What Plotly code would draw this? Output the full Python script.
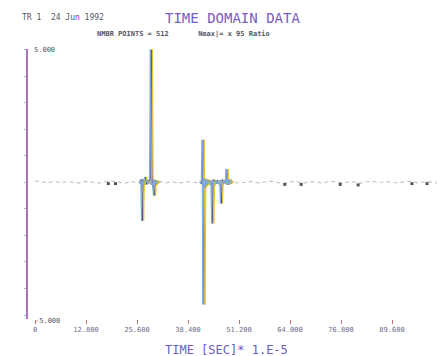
import plotly.graph_objects as go

# ---------------- data ----------------
# quiet baseline (time in 1e-5 s, amplitude)
quiet_t = [0, 1.6, 3.2, 4.8, 6.4, 8.0, 9.6, 11.2, 12.8, 14.4, 16.0, 17.6, 19.2, 20.8,
           22.4, 24.0, 25.6, 26.4, 31.2, 32.8, 34.4, 36.0, 37.6, 39.2, 40.8, 41.6,
           49.6, 51.2, 52.8, 54.4, 56.0, 57.6, 59.2, 60.8, 62.4, 64.0, 65.6, 67.2,
           68.8, 70.4, 72.0, 73.6, 75.2, 76.8, 78.4, 80.0, 81.6, 83.2, 84.8, 86.4,
           88.0, 89.6, 91.2, 92.8, 94.4, 96.0, 97.6, 99.2, 100.8, 102.4]
quiet_v = [0.05, 0.02, -0.02, 0.03, -0.01, 0.02, 0.0, -0.02, 0.03, 0.01, -0.03, 0.02,
           0.04, 0.02, -0.05, 0.03, -0.02, 0.05, 0.03, -0.02, 0.02, -0.03, 0.01, 0.02,
           -0.02, 0.05, 0.02, -0.03, 0.01, 0.03, -0.02, 0.02, 0.04, -0.01, -0.05, 0.02,
           0.03, -0.04, 0.01, 0.02, -0.03, 0.02, 0.03, -0.02, 0.01, 0.02, -0.04, 0.02,
           0.03, -0.01, 0.02, 0.01, -0.03, 0.02, 0.04, -0.02, 0.01, 0.02, -0.03, 0.01]

burst1_t = [26.4, 26.6, 26.8, 27.0, 27.2, 27.4, 27.6, 27.8, 28.0, 28.2, 28.4, 28.6, 28.8,
            29.0, 29.2, 29.4, 29.6, 29.8, 30.0, 30.2, 30.4, 30.6, 30.8, 31.0, 31.2]
burst1_v = [0.03, -0.05, 0.12, -1.45, 0.1, -0.1, 0.08, 0.2, -0.08, 0.06, 0.05, -0.05, 0.1,
            0.15, 5.0, -0.1, 0.12, -0.12, -0.5, 0.08, -0.1, 0.06, -0.05, 0.03, 0.02]

burst2_t = [41.6, 41.8, 42.0, 42.2, 42.4, 42.6, 42.8, 43.0, 43.2, 43.4, 43.6, 43.8, 44.0,
            44.2, 44.4, 44.6, 44.8, 45.0, 45.2, 45.4, 45.6, 45.8, 46.0, 46.2, 46.4, 46.6,
            46.8, 47.0, 47.2, 47.4, 47.6, 47.8, 48.0, 48.2, 48.4, 48.6, 48.8, 49.0, 49.2,
            49.4, 49.6]
burst2_v = [0.03, -0.06, 0.05, 1.6, -4.6, 0.15, -0.2, 0.1, -0.12, 0.1, -0.08, 0.06, 0.05,
            -0.08, 0.05, -1.55, 0.1, -0.12, 0.06, 0.05, -0.05, 0.08, -0.06, 0.05, -0.08, 0.06,
            -0.8, 0.1, 0.05, -0.06, 0.08, 0.05, -0.05, 0.5, -0.1, 0.12, -0.08, 0.1, -0.05,
            0.04, 0.02]

blip_t = [18.4, 20.2, 62.7, 66.8, 76.6, 81.1, 94.6, 98.4]
blip_v = [-0.05, -0.05, -0.08, -0.08, -0.08, -0.1, -0.05, -0.05]

tick_vals = [0, 12.8, 25.6, 38.4, 51.2, 64.0, 76.8, 89.6, 102.4]
tick_text = ["0", "12.800", "25.600", "38.400", "51.200", "64.000", "76.800", "89.600", "102.4"]

y_top_label = "5.000"
y_bot_label = "-5.000"

# ---------------- figure ----------------
X0, X1 = -1.76, 102.9
SHIFT = 0.28
MONO = "DejaVu Sans Mono"

fig = go.Figure()

fig.add_trace(go.Scatter(x=quiet_t, y=quiet_v, mode="lines",
                         line=dict(color="#c4c4c4", width=1.2, dash="4px,3px"),
                         hoverinfo="skip", showlegend=False))
fig.add_trace(go.Scatter(x=blip_t, y=blip_v, mode="markers",
                         marker=dict(color="#555555", size=3, symbol="square"),
                         hoverinfo="skip", showlegend=False))

# colour fringes (misregistered print look)
for xa, col in (("x2", "#e6c22a"), ("x3", "#74a8e8")):
    for bt, bv in ((burst1_t, burst1_v), (burst2_t, burst2_v)):
        fig.add_trace(go.Scatter(x=bt, y=bv, mode="lines", xaxis=xa,
                                 line=dict(color=col, width=1.0),
                                 hoverinfo="skip", showlegend=False))
for bt, bv in ((burst1_t, burst1_v), (burst2_t, burst2_v)):
    fig.add_trace(go.Scatter(x=bt, y=bv, mode="lines",
                             line=dict(color="#5b3f78", width=1.1),
                             hoverinfo="skip", showlegend=False))

# page body has an 8px default margin; figure is sized to fit the window
fig.update_layout(
    width=437, height=348,
    margin=dict(l=20, r=0, t=41, b=37),
    paper_bgcolor="white", plot_bgcolor="white",
    showlegend=False,
    xaxis=dict(range=[X0, X1], showgrid=False, zeroline=False, showline=False,
               automargin=False,
               tickmode="array", tickvals=tick_vals, ticktext=tick_text,
               ticks="outside", ticklen=4, tickcolor="#c07070", tickwidth=1,
               tickfont=dict(family=MONO, size=7, color="#6a6a8a")),
    xaxis2=dict(range=[X0 - SHIFT, X1 - SHIFT], overlaying="x", visible=False,
                automargin=False),
    xaxis3=dict(range=[X0 + SHIFT, X1 + SHIFT], overlaying="x", visible=False,
                automargin=False),
    yaxis=dict(range=[-5.15, 5.02], showgrid=False, zeroline=False,
               automargin=False,
               showline=True, linecolor="#b070c0", linewidth=2,
               ticks="outside", ticklen=2, tickcolor="#b0b0c8", dtick=1,
               showticklabels=False),
)

fig.add_annotation(text="TIME DOMAIN DATA", xref="paper", yref="paper",
                   x=0.49, y=1, yshift=31, xanchor="center", yanchor="middle",
                   showarrow=False, font=dict(family=MONO, size=14, color="#7a5cc0"))
fig.add_annotation(text="TR 1  24 Jun 1992", xref="paper", yref="paper",
                   x=-0.02, y=1, yshift=32, xanchor="left", yanchor="middle",
                   showarrow=False, font=dict(family=MONO, size=8, color="#555566"))
fig.add_annotation(text="<b>NMBR POINTS = 512       Nmax|= x 95 Ratio</b>", xref="paper", yref="paper",
                   x=0.16, y=1, yshift=15, xanchor="left", yanchor="middle",
                   showarrow=False, font=dict(family=MONO, size=7, color="#555566"))
fig.add_annotation(text=y_top_label, xref="paper", yref="y",
                   x=0.01, y=5.0, xanchor="left", yanchor="middle",
                   showarrow=False, font=dict(family=MONO, size=7, color="#555566"))
fig.add_annotation(text=y_bot_label, xref="paper", yref="y",
                   x=0.012, y=-5.0, xanchor="left", yanchor="top",
                   showarrow=False, font=dict(family=MONO, size=7, color="#555566"))
fig.add_annotation(text="TIME [SEC]* 1.E-5", xref="paper", yref="paper",
                   x=0.475, y=0, yshift=-31, xanchor="center", yanchor="middle",
                   showarrow=False, font=dict(family=MONO, size=12, color="#6a5cc0"))

fig.write_html("out.html")
